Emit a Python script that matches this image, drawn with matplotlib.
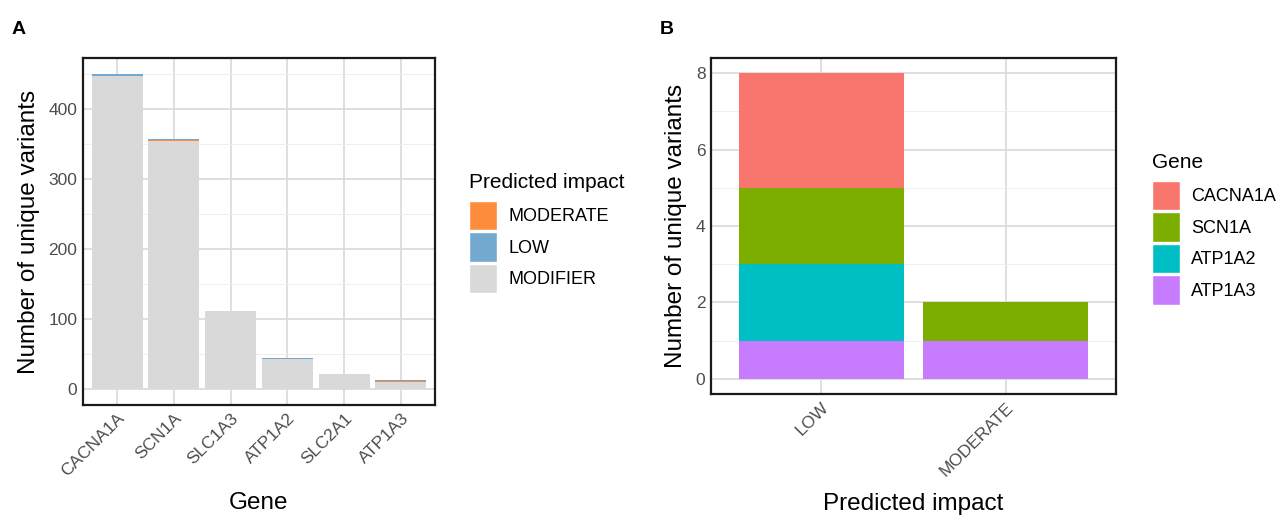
import matplotlib
matplotlib.use("Agg")
import matplotlib.pyplot as plt
import numpy as np
from matplotlib.patches import Patch

plt.rcParams['font.family'] = ['Liberation Sans', 'DejaVu Sans']

# Panel A data
genes_a = ["CACNA1A", "SCN1A", "SLC1A3", "ATP1A2", "SLC2A1", "ATP1A3"]
modifier = [448, 355, 112, 43, 22, 11]
low = [3, 2, 0, 2, 0, 1]
moderate = [0, 1, 0, 0, 0, 1]
impact_levels = ["MODERATE", "LOW", "MODIFIER"]
impact_colors = {"MODERATE": "#FD8D3C", "LOW": "#74A9CF", "MODIFIER": "#D9D9D9"}

# Panel B data
impacts_b = ["LOW", "MODERATE"]
genes_b = ["CACNA1A", "SCN1A", "ATP1A2", "ATP1A3"]
counts_b = {
    "CACNA1A": [3, 0],
    "SCN1A": [2, 1],
    "ATP1A2": [2, 0],
    "ATP1A3": [1, 1],
}
gene_colors = {"CACNA1A": "#F8766D", "SCN1A": "#7CAE00", "ATP1A2": "#00BFC4", "ATP1A3": "#C77CFF"}

W, H = 1282, 517
fig = plt.figure(figsize=(W / 100, H / 100), dpi=100)

TICK = 12.5
TITLE = 17.5
LEG = 13
LEGT = 15


def ax_at(l, t, r, b):
    return fig.add_axes([l / W, 1 - b / H, (r - l) / W, (b - t) / H])


def style(ax):
    ax.set_facecolor("white")
    for s in ax.spines.values():
        s.set_color("#1a1a1a")
        s.set_linewidth(1.6)
        s.set_zorder(5)
    ax.tick_params(axis="both", length=0, labelsize=TICK, colors="#4D4D4D", pad=4)
    ax.grid(True, which="major", color="#D9D9D9", linewidth=1.2)
    ax.grid(True, which="minor", axis="y", color="#EBEBEB", linewidth=0.6)
    ax.set_axisbelow(True)


LEG_KW = dict(loc="upper left", frameon=False, fontsize=LEG, title_fontsize=LEGT,
              handlelength=1.55, handleheight=2.15, handletextpad=0.6,
              labelspacing=0.11, borderaxespad=0)

# ---------- Panel A ----------
axA = ax_at(83, 58, 435, 405)
style(axA)
x = np.arange(len(genes_a))
mod = np.array(modifier)
lo = np.array(low)
md = np.array(moderate)
axA.bar(x, mod, width=0.9, color=impact_colors["MODIFIER"], linewidth=0)
axA.bar(x, md, bottom=mod, width=0.9, color=impact_colors["MODERATE"], linewidth=0)
axA.bar(x, lo, bottom=mod + md, width=0.9, color=impact_colors["LOW"], linewidth=0)
tot = (mod + lo + md).max()
axA.set_ylim(-0.05 * tot, tot * 1.05)
axA.set_xlim(-0.6, len(genes_a) - 0.4)
axA.set_yticks([0, 100, 200, 300, 400])
axA.set_yticks([50, 150, 250, 350, 450], minor=True)
axA.tick_params(axis="y", which="minor", length=0)
axA.set_xticks(x)
axA.set_xticklabels(genes_a, rotation=45, ha="right", rotation_mode="anchor")
axA.set_xlabel("Gene", fontsize=TITLE, labelpad=9)
axA.set_ylabel("Number of unique variants", fontsize=TITLE, labelpad=6)

handlesA = [Patch(facecolor=impact_colors[k], edgecolor="white", label=k) for k in impact_levels]
legA = fig.legend(handles=handlesA, title="Predicted impact",
                  bbox_to_anchor=(462 / W, 1 - 166 / H), **LEG_KW)
legA._legend_box.align = "left"
legA._legend_box.sep = 6

# ---------- Panel B ----------
axB = ax_at(711, 58, 1116, 394)
style(axB)
xb = np.arange(len(impacts_b))
bottom = np.zeros(len(impacts_b))
for g in reversed(genes_b):
    v = np.array(counts_b[g])
    axB.bar(xb, v, bottom=bottom, width=0.9, color=gene_colors[g], linewidth=0)
    bottom += v
axB.set_ylim(-0.4, 8.4)
axB.set_xlim(-0.6, len(impacts_b) - 0.4)
axB.set_yticks([0, 2, 4, 6, 8])
axB.set_yticks([1, 3, 5, 7], minor=True)
axB.tick_params(axis="y", which="minor", length=0)
axB.set_xticks(xb)
axB.set_xticklabels(impacts_b, rotation=45, ha="right", rotation_mode="anchor")
axB.set_xlabel("Predicted impact", fontsize=TITLE, labelpad=10)
axB.set_ylabel("Number of unique variants", fontsize=TITLE, labelpad=6)

handlesB = [Patch(facecolor=gene_colors[g], edgecolor="white", label=g) for g in genes_b]
legB = fig.legend(handles=handlesB, title="Gene",
                  bbox_to_anchor=(1145 / W, 1 - 146 / H), **LEG_KW)
legB._legend_box.align = "left"
legB._legend_box.sep = 6

fig.text(12 / W, 1 - 34 / H, "A", fontsize=14, fontweight="bold")
fig.text(660 / W, 1 - 34 / H, "B", fontsize=14, fontweight="bold")

fig.savefig("out.png", dpi=100, facecolor="white")
